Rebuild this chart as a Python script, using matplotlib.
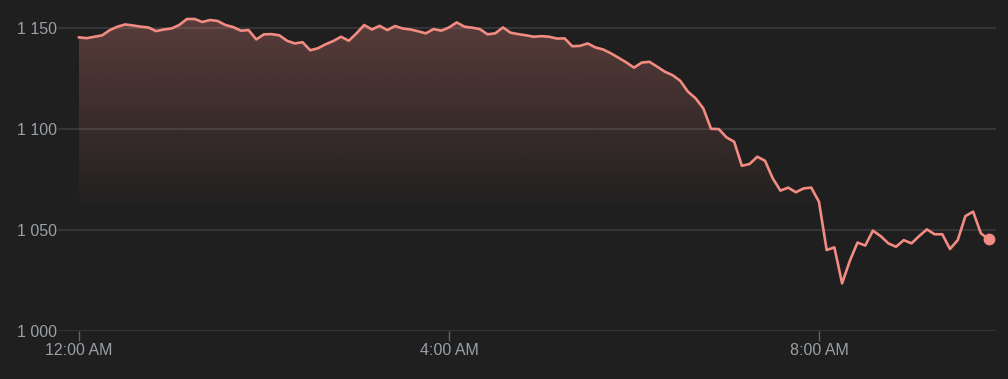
"""Intraday price line, dark theme, salmon line with fading fill."""
import numpy as np
import matplotlib
matplotlib.use("Agg")
import matplotlib.pyplot as plt
from matplotlib.patches import Polygon

# 5-minute samples from 12:00 AM
PRICES = [
    1145.4, 1145.0, 1145.7, 1146.4, 1149.0, 1150.7, 1151.8, 1151.3, 1150.7, 1150.3,
    1148.5, 1149.3, 1149.8, 1151.5, 1154.5, 1154.5, 1153.0, 1154.0, 1153.5, 1151.5,
    1150.5, 1148.7, 1149.0, 1144.4, 1146.9, 1147.0, 1146.4, 1143.7, 1142.4, 1143.0,
    1139.0, 1140.0, 1142.0, 1143.6, 1145.7, 1143.7, 1147.4, 1151.5, 1149.3, 1151.1,
    1149.0, 1151.0, 1149.8, 1149.3, 1148.4, 1147.4, 1149.5, 1148.7, 1150.3, 1152.8,
    1150.7, 1150.2, 1149.5, 1146.9, 1147.4, 1150.3, 1147.7, 1147.0, 1146.4, 1145.7,
    1146.0, 1145.7, 1144.8, 1144.9, 1141.0, 1141.2, 1142.4, 1140.4, 1139.4, 1137.5,
    1135.3, 1133.0, 1130.4, 1132.9, 1133.3, 1130.9, 1128.4, 1126.7, 1123.9, 1118.5,
    1115.2, 1110.2, 1100.1, 1100.0, 1095.9, 1093.7, 1081.8, 1082.7, 1086.3, 1084.3,
    1075.6, 1069.5, 1071.0, 1068.7, 1070.6, 1071.0, 1064.0, 1040.1, 1041.4, 1023.6,
    1034.7, 1043.8, 1042.3, 1049.7, 1047.0, 1043.4, 1041.7, 1045.0, 1043.4, 1047.0,
    1050.3, 1047.9, 1047.9, 1040.6, 1045.0, 1056.9, 1059.1, 1048.4, 1045.4,
]
STEP_HOURS = 5 / 60
X_TICKS = [0, 4, 8]
X_LABELS = ["12:00 AM", "4:00 AM", "8:00 AM"]
Y_TICKS = [1000, 1050, 1100, 1150]
Y_LABELS = ["1 000", "1 050", "1 100", "1 150"]

BG = "#1f1f1f"
LINE = "#f28b82"
GRID = "#3c3d3f"
TXT = "#9aa0a6"

plt.rcParams["font.family"] = ["Liberation Sans", "DejaVu Sans"]

x = np.arange(len(PRICES)) * STEP_HOURS
y = np.array(PRICES)

fig = plt.figure(figsize=(10.08, 3.79), dpi=100, facecolor=BG)
ax = fig.add_axes([58 / 1008, 48 / 379, (996 - 58) / 1008, 331 / 379])
ax.set_facecolor(BG)
ax.set_xlim(-0.227, 9.914)
ax.set_ylim(1000, 1163.9)

# gradient fill under the line, clipped to the area below it
top, fade = 1156, 1058
ys = np.linspace(1000, top, 300)
alpha = np.clip((ys - fade) / (top - fade), 0, 1) * 0.28
rgba = np.zeros((len(ys), 1, 4))
rgba[..., :3] = matplotlib.colors.to_rgb(LINE)
rgba[:, 0, 3] = alpha
im = ax.imshow(rgba, extent=[x[0], x[-1], 1000, top], origin="lower",
               aspect="auto", zorder=1, interpolation="bilinear")
poly = Polygon(np.column_stack([np.r_[x[0], x, x[-1]], np.r_[1000, y, 1000]]),
               closed=True, facecolor="none", edgecolor="none")
ax.add_patch(poly)
im.set_clip_path(poly)

for v in Y_TICKS:
    ax.axhline(v, color=GRID, lw=1.1, zorder=0)

ax.plot(x, y, color=LINE, lw=1.9, zorder=3, solid_joinstyle="round")
ax.plot(x[-1], y[-1], "o", color=LINE, ms=7.5, zorder=4)

for s in ax.spines.values():
    s.set_visible(False)
ax.set_xticks(X_TICKS)
ax.set_xticklabels(X_LABELS)
ax.set_yticks(Y_TICKS)
ax.set_yticklabels(Y_LABELS)
ax.tick_params(axis="x", length=7.2, width=1, color="#5f6368", colors=TXT,
               labelsize=11.5, pad=1.5)
ax.tick_params(axis="x", which="both", color="#5f6368")
ax.tick_params(axis="y", length=0, colors=TXT, labelsize=11.5, pad=1)

fig.savefig("out.png", dpi=100, facecolor=BG)
